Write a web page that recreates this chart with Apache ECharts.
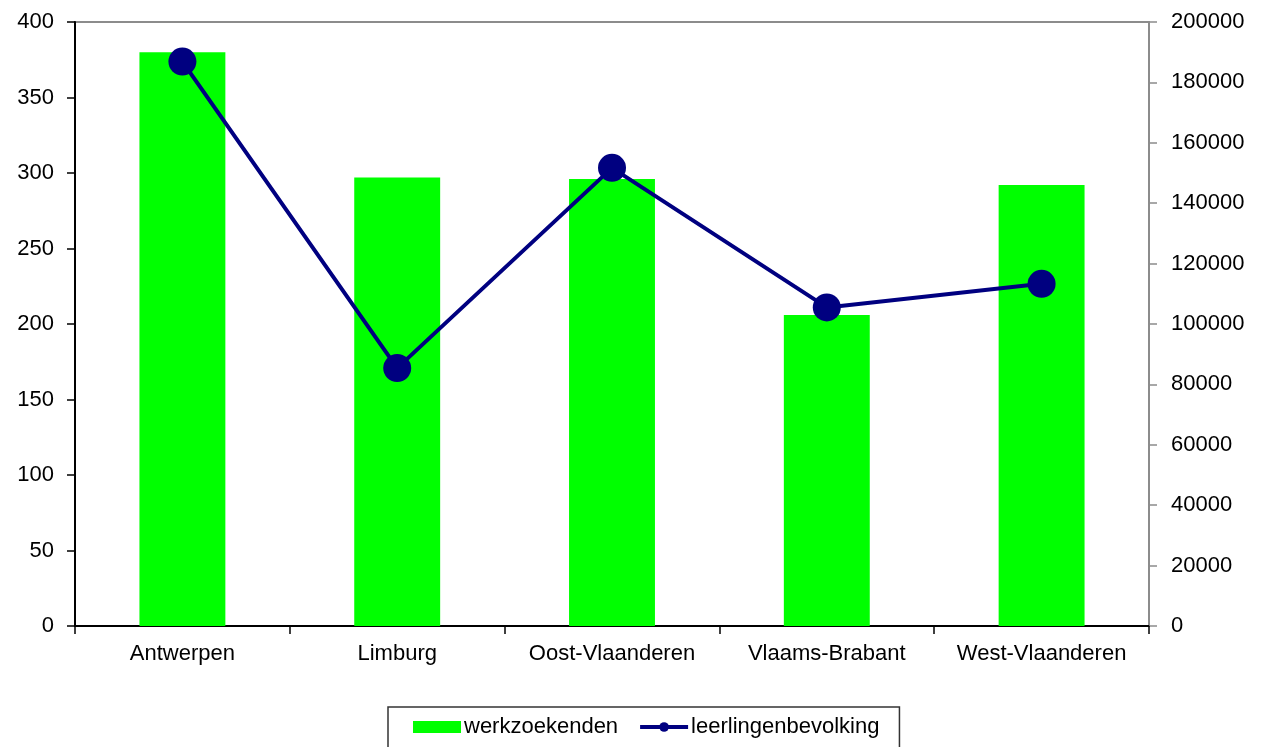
<!DOCTYPE html>
<html>
<head>
<meta charset="utf-8">
<script src="https://cdn.jsdelivr.net/npm/echarts@6/dist/echarts.min.js"></script>
<style>
  html, body { margin: 0; padding: 0; background: #fff; }
  #chart { width: 1271px; height: 747px; }
</style>
</head>
<body>
<div id="chart"></div>
<script>
const provinces = ['Antwerpen', 'Limburg', 'Oost-Vlaanderen', 'Vlaams-Brabant', 'West-Vlaanderen']
const werkzoekenden = [380, 297, 296, 206, 292]
const leerlingenbevolking = [186900, 85400, 151700, 105500, 113300]

const labelFont = { fontFamily: '"Liberation Sans", Arial, sans-serif', fontSize: 22, color: '#000' }

const chart = echarts.init(document.getElementById('chart'))

chart.setOption({
  animation: false,
  grid: {
    left: 75,
    right: 122,
    top: 22,
    bottom: 121,
    show: true,
    borderColor: '#8c8c8c',
    borderWidth: 2
  },
  legend: {
    top: 707,
    left: 388,
    padding: [9, 20, 30, 25],
    borderColor: '#333',
    borderWidth: 1.5,
    itemGap: 20,
    itemWidth: 48,
    itemHeight: 12,
    textStyle: Object.assign({}, labelFont, { padding: [0, 0, 0, -2] }),
    data: [
      { name: 'werkzoekenden', icon: 'rect' },
      { name: 'leerlingenbevolking', itemStyle: { color: '#000080' }, lineStyle: { width: 4, color: '#000080' } }
    ]
  },
  xAxis: {
    type: 'category',
    data: provinces,
    boundaryGap: true,
    axisLine: { lineStyle: { color: '#000', width: 2 } },
    axisTick: { show: true, length: 8, lineStyle: { color: '#000', width: 1.5 } },
    axisLabel: Object.assign({}, labelFont, { margin: 17, interval: 0 })
  },
  yAxis: [{
    type: 'value',
    min: 0,
    max: 400,
    interval: 50,
    splitLine: { show: false },
    axisLine: { show: true, lineStyle: { color: '#000', width: 2 } },
    axisTick: { show: true, length: 8, lineStyle: { color: '#000', width: 1.5 } },
    axisLabel: Object.assign({}, labelFont, { margin: 21 })
  }, {
    type: 'value',
    min: 0,
    max: 200000,
    interval: 20000,
    position: 'right',
    splitLine: { show: false },
    axisLine: { show: true, lineStyle: { color: '#8c8c8c', width: 2 } },
    axisTick: { show: true, length: 8, lineStyle: { color: '#8c8c8c', width: 1.5 } },
    axisLabel: Object.assign({}, labelFont, { margin: 22, formatter: v => String(v) })
  }],
  series: [{
    name: 'werkzoekenden',
    type: 'bar',
    yAxisIndex: 0,
    barWidth: '40%',
    itemStyle: { color: '#00ff00' },
    data: werkzoekenden
  }, {
    name: 'leerlingenbevolking',
    type: 'line',
    yAxisIndex: 1,
    symbol: 'circle',
    symbolSize: 28,
    lineStyle: { color: '#000080', width: 4 },
    itemStyle: { color: '#000080' },
    data: leerlingenbevolking
  }]
})
</script>
</body>
</html>
